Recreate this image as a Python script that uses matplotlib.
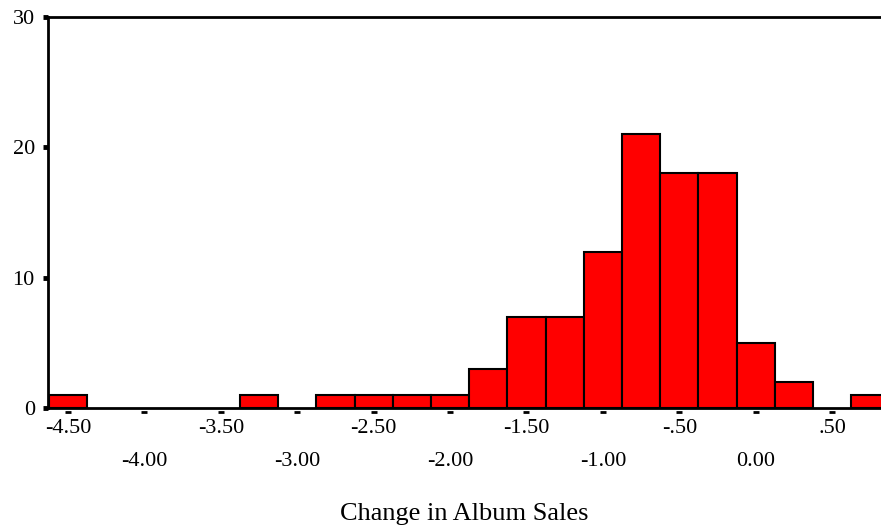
import matplotlib
matplotlib.use('Agg')
import matplotlib.pyplot as plt

# histogram bins (centre of each 0.25-wide bin) and frequencies
bin_centres = [-4.50, -3.25, -2.75, -2.50, -2.25, -2.00, -1.75, -1.50,
               -1.25, -1.00, -0.75, -0.50, -0.25, 0.00, 0.25, 0.75]
counts = [1, 1, 1, 1, 1, 1, 3, 7, 7, 12, 21, 18, 18, 5, 2, 1]

row1_ticks = [-4.5, -3.5, -2.5, -1.5, -0.5, 0.5]
row1_labels = ['-4.50', '-3.50', '-2.50', '-1.50', '-.50', '.50']
row2_ticks = [-4.0, -3.0, -2.0, -1.0, 0.0]
row2_labels = ['-4.00', '-3.00', '-2.00', '-1.00', '0.00']
y_ticks = [0, 10, 20, 30]

plt.rcParams['font.family'] = ['Liberation Serif', 'DejaVu Serif']

fig = plt.figure(figsize=(8.81, 5.25), dpi=100)
ax = fig.add_axes([48 / 881, 117 / 525, 833 / 881, 391 / 525])

ax.bar(bin_centres, counts, width=0.25, color='#ff0000',
       edgecolor='black', linewidth=1.5, zorder=2)

ax.set_xlim(-4.631, 0.82)
ax.set_ylim(0, 30)

for s in ['left', 'top', 'bottom']:
    ax.spines[s].set_linewidth(2)
ax.spines['right'].set_visible(False)

ax.set_yticks(y_ticks)
ax.tick_params(axis='y', direction='out', length=3.5, width=3.5, pad=6,
               labelsize=16)

# two staggered rows of x labels
ax.set_xticks(row1_ticks)
ax.set_xticklabels(row1_labels)
ax.set_xticks(row2_ticks, minor=True)
ax.set_xticklabels(row2_labels, minor=True)
ax.tick_params(axis='x', which='major', length=0, pad=8, labelsize=16)
ax.tick_params(axis='x', which='minor', length=0, pad=32, labelsize=16)

# little dash marks under the axis
all_ticks = sorted(row1_ticks + row2_ticks)
ax.plot(all_ticks, [-0.3] * len(all_ticks), ls='none', marker='_',
        ms=5, mew=2, color='black', clip_on=False)

ax.set_xlabel('Change in Album Sales', fontsize=19, labelpad=23)

fig.savefig('out.png', dpi=100)
